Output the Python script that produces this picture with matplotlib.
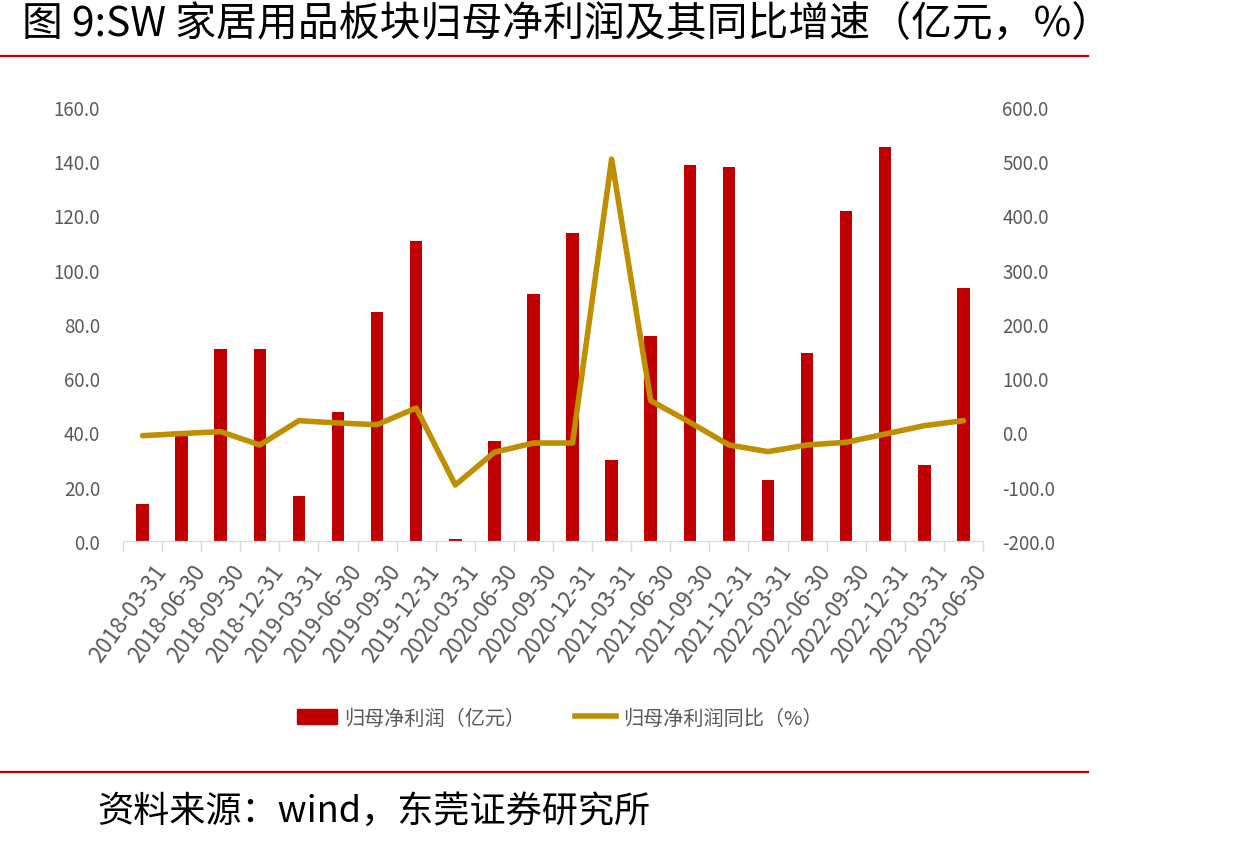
import matplotlib.pyplot as plt
from matplotlib.lines import Line2D

plt.rcParams['font.family'] = ['Noto Sans CJK SC', 'DejaVu Sans']

# 报告期
dates = ['2018-03-31', '2018-06-30', '2018-09-30', '2018-12-31',
         '2019-03-31', '2019-06-30', '2019-09-30', '2019-12-31',
         '2020-03-31', '2020-06-30', '2020-09-30', '2020-12-31',
         '2021-03-31', '2021-06-30', '2021-09-30', '2021-12-31',
         '2022-03-31', '2022-06-30', '2022-09-30', '2022-12-31',
         '2023-03-31', '2023-06-30']
# 归母净利润（亿元）
profit = [13.6, 38.8, 70.8, 70.8, 16.5, 47.7, 84.3, 110.7,
          0.7, 36.8, 90.9, 113.4, 30.0, 75.5, 138.5, 137.9,
          22.5, 69.3, 121.5, 145.4, 27.9, 93.2]
# 归母净利润同比（%）
yoy = [-5.9, -2.0, 1.5, -23.0, 21.8, 17.5, 14.4, 45.2,
       -96.8, -36.5, -19.4, -19.4, 504.0, 58.6, 18.8, -23.0,
       -35.3, -23.0, -18.1, -2.8, 12.6, 21.8]

red = '#C00000'
gold = '#BF8F00'
grey = '#595959'

fig = plt.figure(figsize=(12.49, 8.45), dpi=100)
ax = fig.add_axes([0.0985, 0.3586, 0.6885, 0.5136])
ax2 = ax.twinx()

x = list(range(len(dates)))
ax.bar(x, profit, width=0.32, color=red, zorder=2)
ax2.plot(x, yoy, color=gold, lw=4, solid_joinstyle='round', solid_capstyle='round', zorder=3)

ax.set_xlim(-0.5, len(dates) - 0.5)
ax.set_ylim(0, 160)
ax2.set_ylim(-200, 600)
ax.set_yticks(range(0, 161, 20))
ax2.set_yticks(range(-200, 601, 100))
ax.set_yticklabels([f'{v:.1f}' for v in range(0, 161, 20)])
ax2.set_yticklabels([f'{v:.1f}' for v in range(-200, 601, 100)])

# 分类轴刻度在类别之间
ax.set_xticks([i - 0.5 for i in range(len(dates) + 1)])
ax.set_xticklabels([])
ax.tick_params(axis='x', length=8, color='#D9D9D9', width=1)
for i, d in enumerate(dates):
    ax.text(i + 0.25, -7, d, rotation=54, ha='right', va='top', rotation_mode='anchor',
            fontsize=16, color=grey, transform=ax.transData)

for a in (ax, ax2):
    for s in ('top', 'left', 'right'):
        a.spines[s].set_visible(False)
    a.spines['bottom'].set_color('#D9D9D9')
    a.tick_params(axis='y', length=0, labelsize=13.5, labelcolor=grey)
ax.tick_params(axis='y', pad=16.5)
ax2.tick_params(axis='y', pad=14)
ax2.set_zorder(ax.get_zorder() + 1)
ax2.patch.set_visible(False)

# 图例
handles = [plt.Rectangle((0, 0), 1, 1, color=red),
           Line2D([0], [0], color=gold, lw=4)]
fig.legend(handles, ['归母净利润（亿元）', '归母净利润同比（%）'], loc='center',
           bbox_to_anchor=(0.448, 0.149), ncol=2, frameon=False, fontsize=14.5,
           labelcolor=grey, handlelength=2.0, handleheight=0.75, handletextpad=0.35,
           columnspacing=2.5)

# 标题与来源
fig.text(0.018, 0.97, '图 9:SW 家居用品板块归母净利润及其同比增速（亿元，%）',
         fontsize=29.4, ha='left', va='center', color='black')
fig.add_artist(Line2D([0, 0.871], [0.933, 0.933], color=red, lw=1.6))
fig.add_artist(Line2D([0, 0.871], [0.085, 0.085], color=red, lw=1.6))
fig.text(0.078, 0.039, '资料来源：wind，东莞证券研究所', fontsize=26, ha='left', va='center')

fig.savefig('out.png', dpi=100)
